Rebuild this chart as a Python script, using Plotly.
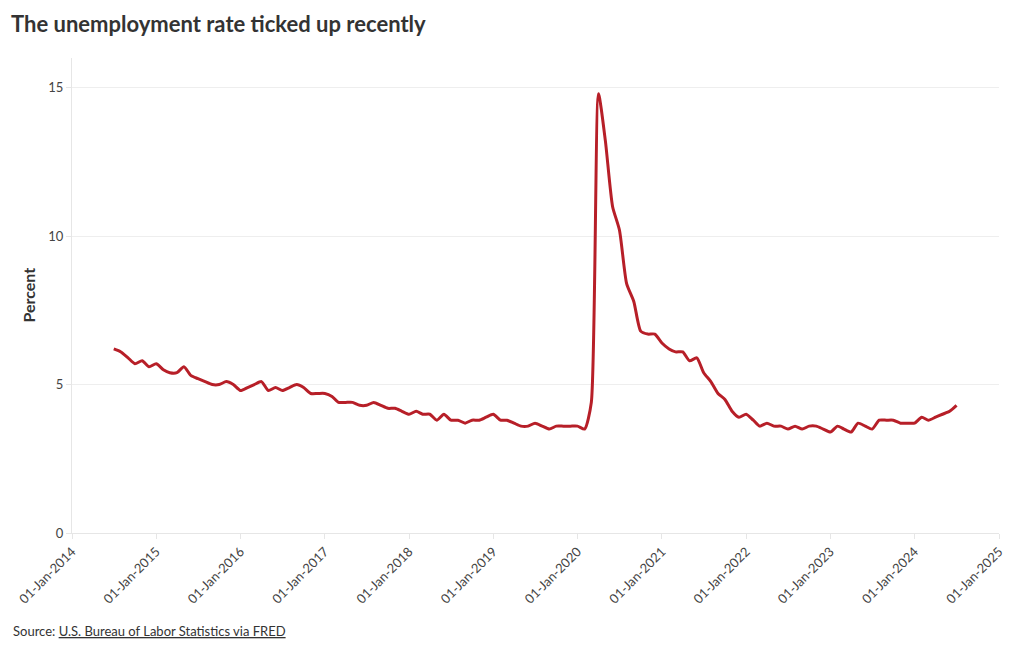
import plotly.graph_objects as go
import pandas as pd

start_month = "2014-07-01"
unemployment_rate = [
    6.2, 6.1, 5.9, 5.7, 5.8, 5.6,                                # 2014 Jul-Dec
    5.7, 5.5, 5.4, 5.4, 5.6, 5.3, 5.2, 5.1, 5.0, 5.0, 5.1, 5.0,  # 2015
    4.8, 4.9, 5.0, 5.1, 4.8, 4.9, 4.8, 4.9, 5.0, 4.9, 4.7, 4.7,  # 2016
    4.7, 4.6, 4.4, 4.4, 4.4, 4.3, 4.3, 4.4, 4.3, 4.2, 4.2, 4.1,  # 2017
    4.0, 4.1, 4.0, 4.0, 3.8, 4.0, 3.8, 3.8, 3.7, 3.8, 3.8, 3.9,  # 2018
    4.0, 3.8, 3.8, 3.7, 3.6, 3.6, 3.7, 3.6, 3.5, 3.6, 3.6, 3.6,  # 2019
    3.6, 3.5, 4.4, 14.8, 13.2, 11.0, 10.2, 8.4, 7.8, 6.8, 6.7, 6.7,  # 2020
    6.4, 6.2, 6.1, 6.1, 5.8, 5.9, 5.4, 5.1, 4.7, 4.5, 4.1, 3.9,  # 2021
    4.0, 3.8, 3.6, 3.7, 3.6, 3.6, 3.5, 3.6, 3.5, 3.6, 3.6, 3.5,  # 2022
    3.4, 3.6, 3.5, 3.4, 3.7, 3.6, 3.5, 3.8, 3.8, 3.8, 3.7, 3.7,  # 2023
    3.7, 3.9, 3.8, 3.9, 4.0, 4.1, 4.3,                           # 2024 Jan-Jul
]
dates = pd.date_range(start_month, periods=len(unemployment_rate), freq="MS")

tick_years = list(range(2014, 2026))
tick_vals = [f"{y}-01-01" for y in tick_years]
tick_text = [f"01-Jan-{y}" for y in tick_years]

FONT = "Lato, 'Source Sans Pro', sans-serif"

fig = go.Figure()
fig.add_trace(go.Scatter(
    x=dates, y=unemployment_rate, mode="lines",
    line=dict(color="#b71f28", width=3, shape="spline", smoothing=0.6),
    hoverinfo="x+y", showlegend=False,
))

fig.update_layout(
    width=1020, height=650,
    paper_bgcolor="white", plot_bgcolor="white",
    margin=dict(l=64, r=29, t=50, b=125),
    font=dict(family=FONT, color="#444444", size=13),
    title=dict(text="<b>The unemployment rate ticked up recently</b>",
               xref="container", x=0.003, xanchor="left",
               yref="container", y=0.975, yanchor="middle",
               font=dict(size=22, color="#333333", family=FONT)),
    xaxis=dict(
        range=["2014-01-01", "2025-01-01"],
        tickvals=tick_vals, ticktext=tick_text, tickangle=-45,
        showgrid=False, showline=True, linecolor="#e6e6e6", linewidth=1,
        ticks="outside", tickcolor="#e6e6e6", ticklen=5,
        tickfont=dict(size=13, color="#444444"),
        zeroline=False, fixedrange=True, automargin=False,
    ),
    yaxis=dict(
        range=[0, 16], tickvals=[0, 5, 10, 15],
        showgrid=True, gridcolor="#eeeeee", gridwidth=1,
        showline=True, linecolor="#e6e6e6", linewidth=1,
        ticks="outside", tickcolor="#e6e6e6", ticklen=5,
        tickfont=dict(size=13, color="#444444"),
        zeroline=False, automargin=False,
    ),
    annotations=[
        dict(
            text="<b>Percent</b>", textangle=-90,
            xref="paper", yref="paper", x=-0.0474, y=0.5, xanchor="center", yanchor="middle",
            showarrow=False, font=dict(size=16, color="#333333", family=FONT),
        ),
        dict(
            text="Source: <a href='https://fred.stlouisfed.org/series/UNRATE' style='color:#333333'><u>U.S. Bureau of Labor Statistics via FRED</u></a>",
            xref="paper", yref="paper", x=-0.0658, y=-0.206, xanchor="left", yanchor="middle",
            showarrow=False, font=dict(size=13, color="#333333", family=FONT),
        ),
    ],
)

fig.write_html("out.html")
